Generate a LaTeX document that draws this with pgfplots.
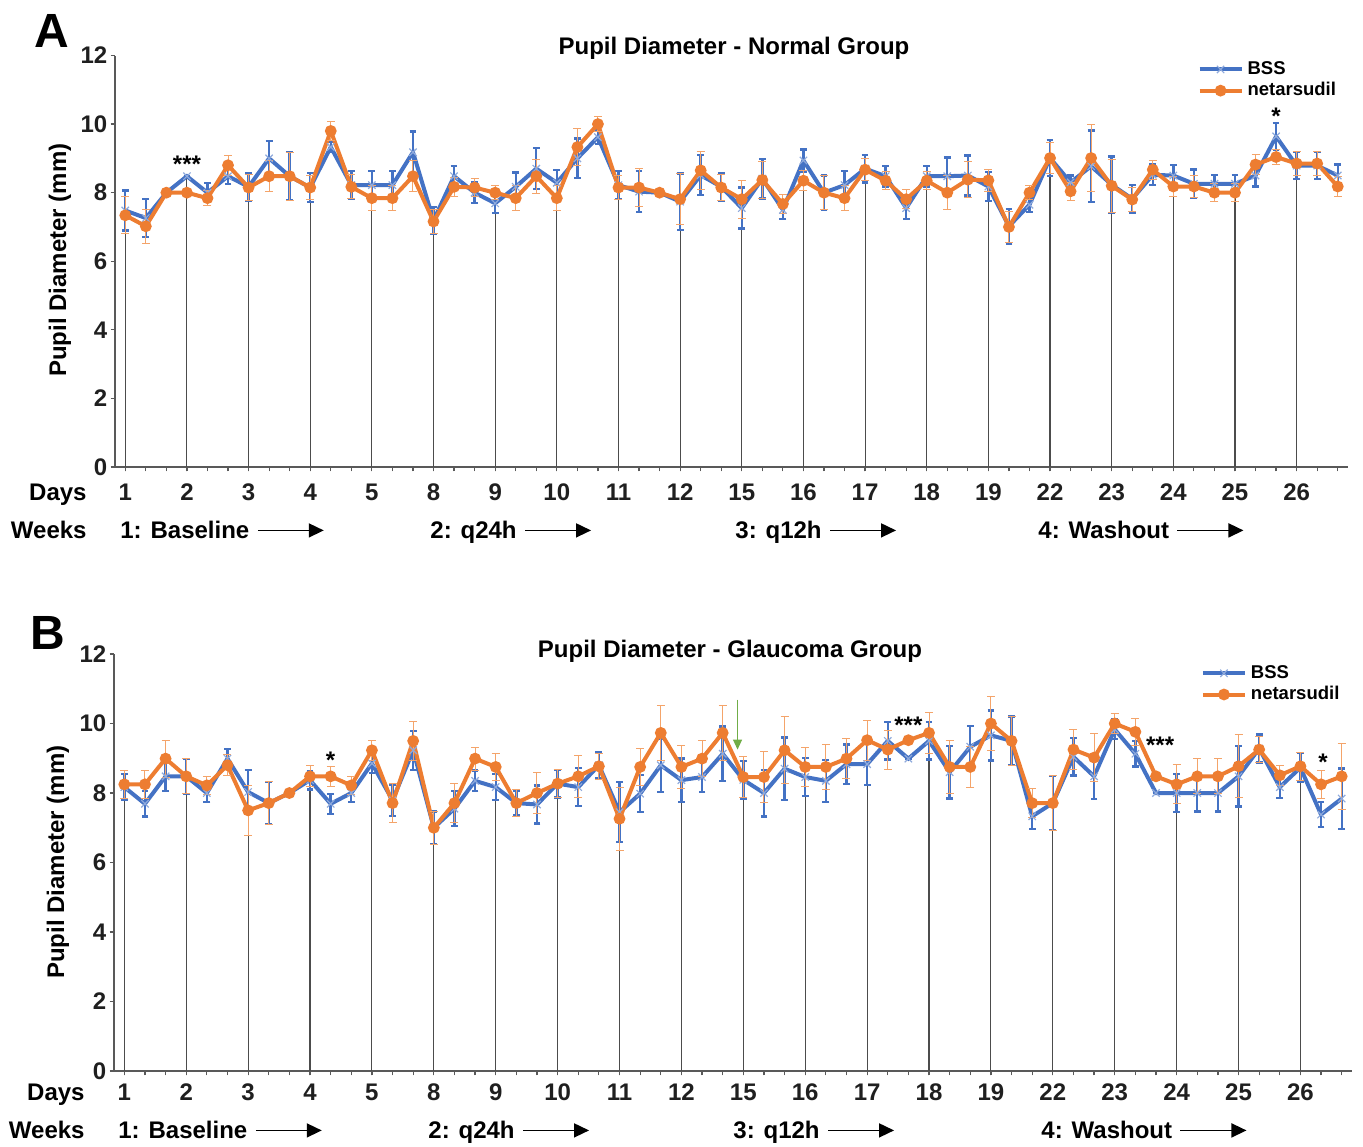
\documentclass[border=0pt]{standalone}
\usepackage{pgfplots}
\pgfplotsset{compat=1.18}
\usepackage{pgfplotstable}
\usetikzlibrary{arrows.meta}
\usepackage{fontspec}
\setmainfont{Liberation Sans}
\definecolor{cBlue}{HTML}{4472C4}
\definecolor{cBlueL}{HTML}{8FAADC}
\definecolor{cOrange}{HTML}{ED7D31}
\definecolor{cOrangeL}{HTML}{F4A46A}
\definecolor{cGreen}{HTML}{70AD47}
\newcommand{\fs}[1]{\bfseries\fontsize{#1}{#1}\selectfont}

% Panel A data: x index, mean, error
\pgfplotstableread{
x y e
0 7.48 0.58
1 7.26 0.55
2 8.00 0.00
3 8.48 0.00
4 8.00 0.28
5 8.48 0.23
6 8.17 0.41
7 9.00 0.50
8 8.48 0.70
9 8.15 0.42
10 9.33 0.15
11 8.22 0.41
12 8.22 0.41
13 8.22 0.41
14 9.18 0.60
15 7.19 0.40
16 8.48 0.30
17 8.00 0.30
18 7.69 0.28
19 8.17 0.42
20 8.70 0.60
21 8.29 0.37
22 9.00 0.58
23 9.62 0.20
24 8.22 0.41
25 8.03 0.60
26 8.00 0.00
27 7.74 0.82
28 8.51 0.58
29 8.17 0.41
30 7.55 0.60
31 8.41 0.58
32 7.50 0.27
33 8.94 0.32
34 8.00 0.50
35 8.22 0.41
36 8.70 0.40
37 8.48 0.30
38 7.55 0.32
39 8.48 0.30
40 8.48 0.55
41 8.50 0.58
42 8.18 0.42
43 7.02 0.50
44 7.65 0.22
45 9.01 0.52
46 8.30 0.20
47 8.77 1.04
48 8.23 0.83
49 7.82 0.40
50 8.52 0.30
51 8.50 0.30
52 8.26 0.42
53 8.26 0.25
54 8.26 0.25
55 8.50 0.32
56 9.64 0.40
57 8.79 0.39
58 8.79 0.39
59 8.50 0.32
}\Abss
\pgfplotstableread{
x y e
0 7.34 0.54
1 7.02 0.50
2 8.00 0.00
3 8.00 0.00
4 7.84 0.22
5 8.80 0.29
6 8.15 0.38
7 8.48 0.46
8 8.48 0.70
9 8.15 0.35
10 9.80 0.28
11 8.17 0.35
12 7.84 0.36
13 7.84 0.36
14 8.48 0.46
15 7.16 0.34
16 8.17 0.27
17 8.15 0.27
18 8.00 0.20
19 7.84 0.36
20 8.48 0.50
21 7.84 0.37
22 9.33 0.53
23 10.00 0.23
24 8.15 0.35
25 8.15 0.55
26 8.00 0.00
27 7.81 0.75
28 8.65 0.55
29 8.15 0.38
30 7.81 0.55
31 8.37 0.55
32 7.67 0.27
33 8.35 0.30
34 8.00 0.50
35 7.84 0.36
36 8.67 0.32
37 8.35 0.27
38 7.81 0.27
39 8.35 0.27
40 8.00 0.50
41 8.38 0.53
42 8.36 0.33
43 7.00 0.45
44 8.00 0.20
45 9.01 0.45
46 8.04 0.27
47 9.01 0.97
48 8.20 0.77
49 7.80 0.36
50 8.67 0.28
51 8.18 0.30
52 8.18 0.33
53 8.00 0.26
54 8.00 0.26
55 8.82 0.29
56 9.04 0.22
57 8.85 0.34
58 8.85 0.34
59 8.18 0.30
}\Anet
\pgfplotstableread{
x y
0 7.48
3 8.48
6 8.17
9 8.15
12 8.22
15 7.19
18 8.00
21 8.29
24 8.22
27 7.81
30 7.81
33 8.94
36 8.70
39 8.48
42 8.36
45 9.01
48 8.23
51 8.50
54 8.26
57 8.85
}\Adrop

% Panel B data
\pgfplotstableread{
x y e
0 8.17 0.37
1 7.69 0.36
2 8.48 0.43
3 8.48 0.50
4 8.00 0.25
5 8.99 0.27
6 8.03 0.63
7 7.71 0.60
8 8.00 0.00
9 8.37 0.27
10 7.69 0.29
11 8.00 0.25
12 8.85 0.28
13 7.79 0.45
14 9.23 0.56
15 7.00 0.47
16 7.55 0.50
17 8.35 0.30
18 8.17 0.37
19 7.71 0.36
20 7.67 0.55
21 8.27 0.40
22 8.17 0.55
23 8.80 0.38
24 7.45 0.86
25 7.98 0.53
26 8.80 0.77
27 8.37 0.62
28 8.46 0.43
29 9.13 0.78
30 8.38 0.55
31 8.00 0.67
32 8.70 0.90
33 8.46 0.54
34 8.35 0.60
35 8.83 0.57
36 8.83 0.60
37 9.50 0.54
38 8.99 0.00
39 9.50 0.54
40 8.60 0.76
41 9.33 0.60
42 9.66 0.72
43 9.50 0.70
44 7.33 0.36
45 7.71 0.78
46 9.04 0.54
47 8.48 0.65
48 9.83 0.28
49 9.13 0.37
50 8.00 0.00
51 8.00 0.55
52 8.00 0.53
53 8.00 0.53
54 8.48 0.87
55 9.28 0.40
56 8.17 0.32
57 8.73 0.42
58 7.38 0.36
59 7.84 0.87
}\Bbss
\pgfplotstableread{
x y e
0 8.25 0.40
1 8.25 0.40
2 8.99 0.53
3 8.48 0.50
4 8.22 0.25
5 8.80 0.30
6 7.50 0.72
7 7.71 0.62
8 8.00 0.00
9 8.48 0.30
10 8.48 0.29
11 8.22 0.25
12 9.23 0.28
13 7.71 0.55
14 9.50 0.56
15 7.00 0.47
16 7.71 0.57
17 8.99 0.33
18 8.75 0.40
19 7.71 0.38
20 8.00 0.58
21 8.27 0.40
22 8.48 0.60
23 8.77 0.38
24 7.26 0.90
25 8.75 0.53
26 9.73 0.80
27 8.75 0.62
28 8.99 0.52
29 9.73 0.80
30 8.46 0.60
31 8.46 0.73
32 9.23 0.97
33 8.75 0.55
34 8.75 0.65
35 8.99 0.58
36 9.52 0.57
37 9.25 0.56
38 9.52 0.00
39 9.73 0.58
40 8.75 0.77
41 8.75 0.60
42 10.00 0.77
43 9.50 0.70
44 7.71 0.41
45 7.71 0.80
46 9.25 0.58
47 9.02 0.70
48 10.00 0.29
49 9.76 0.39
50 8.48 0.00
51 8.25 0.56
52 8.48 0.50
53 8.48 0.50
54 8.77 0.91
55 9.25 0.38
56 8.51 0.29
57 8.77 0.40
58 8.25 0.40
59 8.48 0.95
}\Bnet
\pgfplotstableread{
x y
0 8.25
3 8.48
6 8.03
9 8.48
12 9.23
15 7.00
18 8.75
21 8.27
24 7.45
27 8.75
30 8.46
33 8.75
36 9.52
39 9.73
42 10.00
45 7.71
48 10.00
51 8.25
54 8.77
57 8.77
}\Bdrop

\pgfplotsset{
  panel/.style={
    scale only axis, anchor=south west,
    xmin=-0.5, xmax=59.5, ymin=0, ymax=12,
    axis x line=bottom, axis y line=left,
    axis line style={-, draw=black!65, line width=0.7pt},
    ytick={0,2,...,12},
    xtick={0,3,...,57},
    xticklabels={1,2,3,4,5,8,9,10,11,12,15,16,17,18,19,22,23,24,25,26},
    minor xtick={0,...,59},
    tick align=outside,
    major tick length=2.2pt, minor tick length=2.2pt,
    every tick/.style={draw=black!65, line width=0.6pt},
    ticklabel style={font=\fs{12}, text=black!88},
    xticklabel style={anchor=base, yshift=-14.3pt},
    yticklabel style={anchor=east, inner sep=0pt, xshift=-1.5pt},
    /pgf/number format/assume math mode=true,
    clip=false,
    legend cell align=left,
    legend image code/.code={\draw[mark repeat=2,mark phase=2,##1] plot coordinates {(0pt,0pt) (10.5pt,0pt) (21pt,0pt)};},
  },
  bss/.style={color=cBlue, line width=2pt, mark=x, mark size=2.6pt,
    mark options={draw=cBlueL, line width=0.6pt, solid},
    error bars/.cd, y dir=both, y explicit, error mark=|,
    error bar style={line width=1.2pt, draw=cBlue},
    error mark options={line width=1.2pt, mark size=1.7pt, draw=cBlue}},
  net/.style={color=cOrange, line width=2pt, mark=*, mark size=1.9pt,
    mark options={solid, fill=cOrange, draw=cOrange},
    error bars/.cd, y dir=both, y explicit, error mark=|,
    error bar style={line width=0.5pt, draw=cOrangeL},
    error mark options={line width=0.5pt, mark size=2pt, draw=cOrangeL}},
  drop/.style={ycomb, no marks, draw=black!70, line width=0.55pt, forget plot},
}

\begin{document}
\begin{tikzpicture}
\path[use as bounding box] (0pt,0pt) rectangle (681.5pt,-573pt);

% ---------------- Panel A ----------------
\begin{axis}[panel, at={(57.5pt,-233.5pt)}, width=616.5pt, height=205.75pt,
  legend style={draw=none, fill=none, anchor=west, at={(axis description cs:0.878,0.940)},
    font=\fs{9.25}, inner sep=0pt, outer sep=0pt, row sep=-1.5pt}]
\addplot[drop] table[x=x,y=y] {\Adrop};
\addplot[bss] table[x=x, y=y, y error=e] {\Abss};
\addlegendentry{BSS}
\addplot[net] table[x=x, y=y, y error=e] {\Anet};
\addlegendentry{netarsudil}
\node[anchor=base, font=\fs{12}] at (axis cs:3,8.59) {***};
\node[anchor=base, font=\fs{12}] at (axis cs:56,9.99) {*};
\end{axis}

\node[font=\fs{24}] at (26pt,-15.5pt) {A};
\node[font=\fs{12}] at (367pt,-24pt) {Pupil Diameter - Normal Group};
\node[font=\fs{12}, rotate=90] at (30pt,-130pt) {Pupil Diameter (mm)};
\node[font=\fs{12}, anchor=base east, inner sep=0pt] at (43.5pt,-250.3pt) {Days};
\node[font=\fs{12}, anchor=base east, inner sep=0pt] at (43.5pt,-269.3pt) {Weeks};
\node[font=\fs{12}, anchor=base west, inner sep=0pt] (a1) at (60pt,-269.3pt) {1: Baseline};
\node[font=\fs{12}, anchor=base west, inner sep=0pt] (a2) at (215pt,-269.3pt) {2: q24h};
\node[font=\fs{12}, anchor=base west, inner sep=0pt] (a3) at (367.5pt,-269.3pt) {3: q12h};
\node[font=\fs{12}, anchor=base west, inner sep=0pt] (a4) at (519pt,-269.3pt) {4: Washout};
\foreach \n in {a1,a2,a3,a4}{
  \draw[line width=0.8pt, -{Triangle[length=7.5pt,width=7pt]}] ([xshift=4pt,yshift=4.1pt]\n.base east) -- ++(33pt,0);
}

% ---------------- Panel B ----------------
\begin{axis}[panel, at={(57pt,-535.5pt)}, width=619pt, height=208.5pt,
  xticklabel style={yshift=1.6pt},
  legend style={draw=none, fill=none, anchor=west, at={(axis description cs:0.878,0.928)},
    font=\fs{9.25}, inner sep=0pt, outer sep=0pt, row sep=-1.5pt}]
\addplot[drop] table[x=x,y=y] {\Bdrop};
\addplot[bss] table[x=x, y=y, y error=e] {\Bbss};
\addlegendentry{BSS}
\addplot[net] table[x=x, y=y, y error=e] {\Bnet};
\addlegendentry{netarsudil}
\node[anchor=base, font=\fs{12}] at (axis cs:10,8.70) {*};
\node[anchor=base, font=\fs{12}] at (axis cs:38,9.71) {***};
\node[anchor=base, font=\fs{12}] at (axis cs:50.2,9.14) {***};
\node[anchor=base, font=\fs{12}] at (axis cs:58.1,8.65) {*};
\draw[cGreen, line width=0.6pt, -{Triangle[length=5pt,width=4.5pt]}] (axis cs:29.72,10.69) -- (axis cs:29.72,9.25);
\end{axis}

\node[font=\fs{24}] at (24pt,-316.5pt) {B};
\node[font=\fs{12}] at (365pt,-325.5pt) {Pupil Diameter - Glaucoma Group};
\node[font=\fs{12}, rotate=90] at (29pt,-431pt) {Pupil Diameter (mm)};
\node[font=\fs{12}, anchor=base east, inner sep=0pt] at (42.5pt,-550.3pt) {Days};
\node[font=\fs{12}, anchor=base east, inner sep=0pt] at (42.5pt,-569.3pt) {Weeks};
\node[font=\fs{12}, anchor=base west, inner sep=0pt] (b1) at (59pt,-569.3pt) {1: Baseline};
\node[font=\fs{12}, anchor=base west, inner sep=0pt] (b2) at (214pt,-569.3pt) {2: q24h};
\node[font=\fs{12}, anchor=base west, inner sep=0pt] (b3) at (366.5pt,-569.3pt) {3: q12h};
\node[font=\fs{12}, anchor=base west, inner sep=0pt] (b4) at (520.5pt,-569.3pt) {4: Washout};
\foreach \n in {b1,b2,b3,b4}{
  \draw[line width=0.8pt, -{Triangle[length=7.5pt,width=7pt]}] ([xshift=4pt,yshift=4.1pt]\n.base east) -- ++(33pt,0);
}
\end{tikzpicture}
\end{document}
